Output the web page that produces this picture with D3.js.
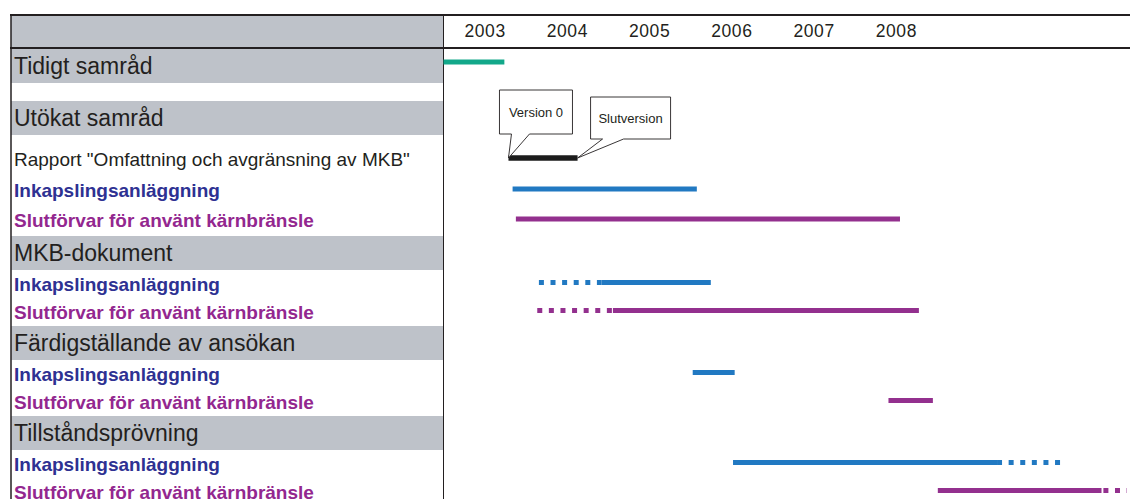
<!DOCTYPE html>
<html>
<head>
<meta charset="utf-8">
<script src="https://cdn.jsdelivr.net/npm/d3@7"></script>
<style>
    body { margin: 0; background: #fff; }
    svg text { font-family: "Liberation Sans", Arial, Helvetica, sans-serif; }
</style>
</head>
<body>
<div id="chart"></div>
<script>
// Year labels on the time header
const years = [2003, 2004, 2005, 2006, 2007, 2008];

// Rows, top to bottom ("" = empty spacer row)
const rowLabels = [
    "Tidigt samråd", "", "Utökat samråd", "",
    'Rapport "Omfattning och avgränsning av MKB"',
    "Inkapslingsanläggning", "Slutförvar för använt kärnbränsle",
    "MKB-dokument",
    "Inkapslingsanläggning", "Slutförvar för använt kärnbränsle",
    "Färdigställande av ansökan",
    "Inkapslingsanläggning", "Slutförvar för använt kärnbränsle",
    "Tillståndsprövning",
    "Inkapslingsanläggning", "Slutförvar för använt kärnbränsle"
];
const rowKinds = ["group", "gap", "group", "gap", "report", "inkap", "slut", "group",
    "inkap", "slut", "group", "inkap", "slut", "group", "inkap", "slut"];

// Bars: row index, start and end in decimal years, kind, dotted (planned) or solid
const barRows   = [0, 4, 5, 6, 8, 8, 9, 9, 11, 12, 14, 14, 15, 15];
const barStart  = [2003.00, 2003.79, 2003.84, 2003.88, 2004.16, 2004.92, 2004.14, 2005.06, 2006.03, 2008.41, 2006.52, 2009.73, 2010.60, 2009.01];
const barEnd    = [2003.74, 2004.63, 2006.08, 2008.55, 2004.92, 2006.25, 2006.18, 2008.78, 2006.54, 2008.95, 2009.73, 2010.55, 2011.31, 2011.00];
const barKinds  = ["green", "report", "inkap", "slut", "inkap", "inkap", "slut", "slut", "inkap", "slut", "inkap", "inkap", "slut", "slut"];
const barDotted = [false, false, false, false, true, false, true, false, false, false, false, true, true, false];

// Callouts on the report bar
const calloutText = ["Version 0", "Slutversion"];
const calloutYear = [2003.79, 2004.63];
const calloutRow  = [4, 4];

// ---- layout and style ----
const W = 1130, H = 499;
const tableTop = 15, headerH = 33, left = 11, labelRight = 443.5;
const rowH = [35, 18, 34, 8, 33, 29, 31, 34, 28, 28, 34, 28, 28, 34, 28, 28];
const ink = "#231f20", grey = "#bec2c9";
const barColor = { green: "#12a88a", report: "#1c1c1c", inkap: "#2179c2", slut: "#93308e" };
const labelColor = { group: ink, report: ink, inkap: "#2e3192", slut: "#93278f", gap: ink };

const rowTop = [];
let acc = tableTop + headerH;
rowH.forEach(h => { rowTop.push(acc); acc += h; });
const rowMid = i => rowTop[i] + rowH[i] / 2;

const x = d3.scaleLinear().domain([2003, 2009]).range([labelRight, 937]);

const svg = d3.select("#chart").append("svg")
    .attr("width", W).attr("height", H);

// grey label cells (header + group rows)
svg.append("rect").attr("x", left).attr("y", tableTop)
    .attr("width", labelRight - left).attr("height", headerH).attr("fill", grey);
svg.selectAll(".cell").data(rowKinds.map((k, i) => i).filter(i => rowKinds[i] === "group"))
    .enter().append("rect")
    .attr("class", "cell")
    .attr("x", left).attr("y", i => rowTop[i])
    .attr("width", labelRight - left).attr("height", i => rowH[i])
    .attr("fill", grey);

// row labels
const fontSize = { group: 23, report: 19, inkap: 19, slut: 19, gap: 12 };
svg.selectAll(".rowlabel").data(rowLabels)
    .enter().append("text")
    .attr("class", "rowlabel")
    .attr("x", 14)
    .attr("y", (d, i) => rowMid(i) + fontSize[rowKinds[i]] * 0.35)
    .attr("font-size", (d, i) => fontSize[rowKinds[i]])
    .attr("font-weight", (d, i) => (rowKinds[i] === "inkap" || rowKinds[i] === "slut") ? "bold" : "normal")
    .attr("fill", (d, i) => labelColor[rowKinds[i]])
    .text(d => d);

// table lines
svg.append("line").attr("x1", left - 1).attr("x2", W).attr("y1", tableTop).attr("y2", tableTop)
    .attr("stroke", ink).attr("stroke-width", 2);
svg.append("line").attr("x1", left - 1).attr("x2", W).attr("y1", tableTop + headerH).attr("y2", tableTop + headerH)
    .attr("stroke", ink).attr("stroke-width", 2);
svg.append("line").attr("x1", left).attr("x2", left).attr("y1", tableTop).attr("y2", H)
    .attr("stroke", ink).attr("stroke-width", 1.5);
svg.append("line").attr("x1", labelRight).attr("x2", labelRight).attr("y1", tableTop).attr("y2", H)
    .attr("stroke", ink).attr("stroke-width", 1);

// year header via axis, labels centred in each year
const axis = svg.append("g")
    .attr("transform", `translate(0,${tableTop + headerH / 2 + 5.5})`)
    .call(d3.axisBottom(x).tickValues(years.map(y => y + 0.5))
        .tickFormat(d => String(Math.floor(d))).tickSize(0).tickPadding(0));
axis.select(".domain").remove();
axis.selectAll("text")
    .attr("y", 0).attr("dy", 0)
    .style("font-family", '"Liberation Sans", Arial, sans-serif')
    .style("font-size", "17.5px")
    .style("letter-spacing", "0.6px")
    .style("fill", ink);

// bars (dotted drawn first so solid parts sit on top)
const order = d3.range(barRows.length).sort((a, b) => (barDotted[b] ? 1 : 0) - (barDotted[a] ? 1 : 0));
svg.selectAll(".bar").data(order)
    .enter().append("line")
    .attr("class", "bar")
    .attr("x1", i => x(barStart[i])).attr("x2", i => x(barEnd[i]))
    .attr("y1", i => rowMid(barRows[i]) - (barRows[i] === 0 ? 3.5 : 1.5))
    .attr("y2", i => rowMid(barRows[i]) - (barRows[i] === 0 ? 3.5 : 1.5))
    .attr("stroke", i => barColor[barKinds[i]])
    .attr("stroke-width", i => barKinds[i] === "report" ? 5.5 : 5)
    .attr("stroke-dasharray", i => barDotted[i] ? "5,6.6" : null);

// callouts (speech boxes pointing at the report bar ends)
const boxes = [
    { dx: -9, dy: -68, w: 73, h: 44, t0: 3, t1: 21 },
    { dx: 13, dy: -61, w: 80, h: 42, t0: 25, t1: 46 }
];
calloutText.forEach((t, i) => {
    const ax = x(calloutYear[i]), ay = rowMid(calloutRow[i]) - 1.5;
    const b = boxes[i];
    const bx = ax + b.dx, by = ay + b.dy;
    const p = d3.path();
    p.moveTo(bx, by);
    p.lineTo(bx + b.w, by);
    p.lineTo(bx + b.w, by + b.h);
    p.lineTo(ax + b.t1, by + b.h);
    p.lineTo(ax, ay);
    p.lineTo(ax + b.t0, by + b.h);
    p.lineTo(bx, by + b.h);
    p.closePath();
    svg.append("path").attr("d", p.toString())
        .attr("fill", "#fff").attr("stroke", ink).attr("stroke-width", 0.9);
    svg.append("text")
        .attr("x", bx + b.w / 2).attr("y", by + b.h / 2 + 4.5)
        .attr("text-anchor", "middle")
        .attr("font-size", 13)
        .attr("fill", ink)
        .text(t);
});
</script>
</body>
</html>
